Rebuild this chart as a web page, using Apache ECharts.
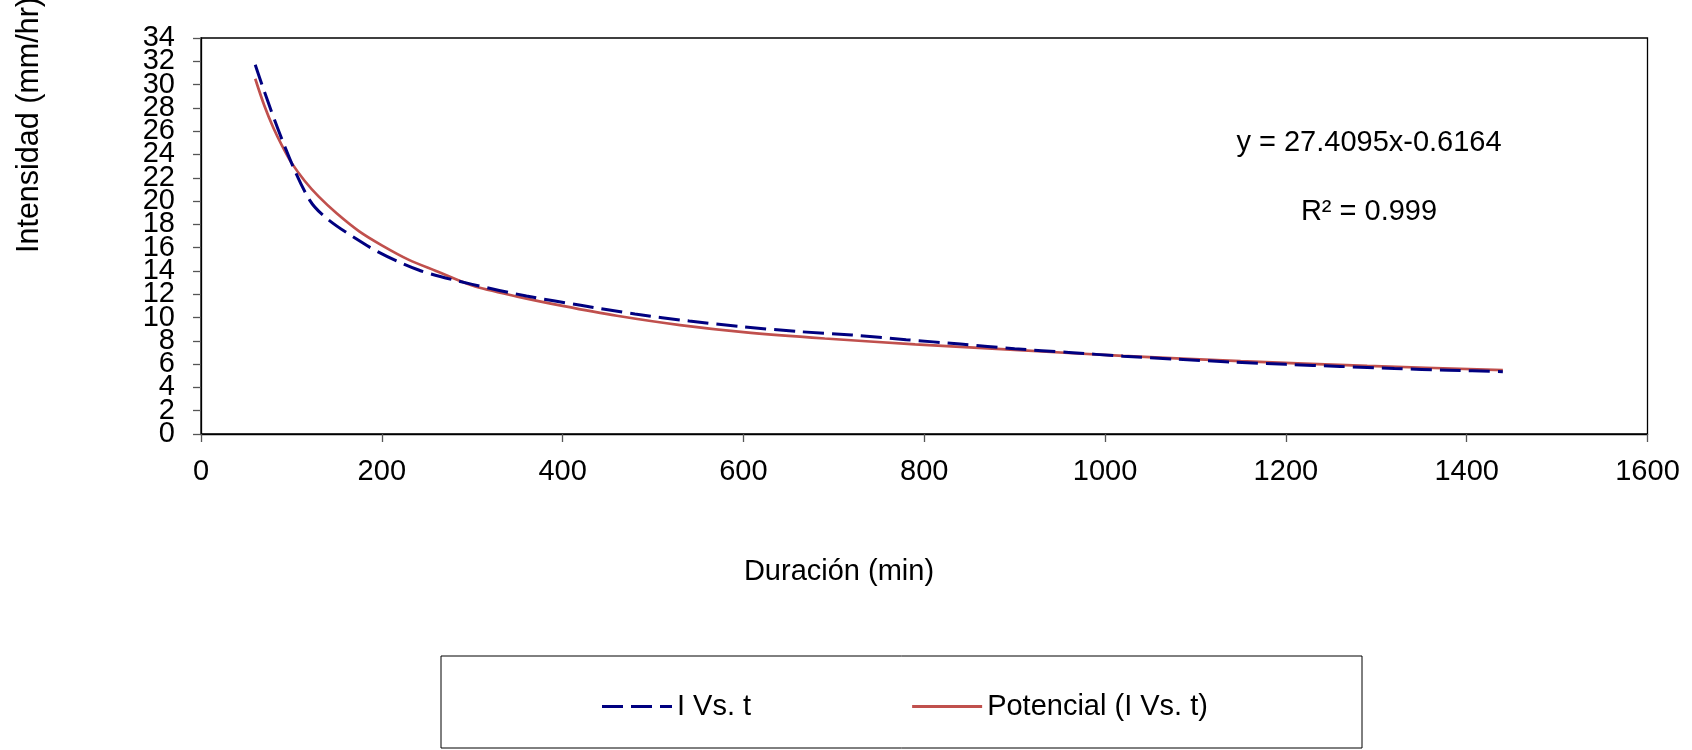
<!DOCTYPE html>
<html><head><meta charset="utf-8">
<script src="https://cdn.jsdelivr.net/npm/echarts@6/dist/echarts.min.js"></script>
<style>html,body{margin:0;padding:0;background:#fff}#c{width:1692px;height:750px}</style>
</head><body><div id="c"></div>
<script>
// Observed data (I Vs. t)
const durations = [60,120,180,240,300,360,420,480,540,600,660,720,780,840,900,960,1020,1080,1140,1200,1260,1320,1380,1440];
const intensities = [31.7,20.1,16.35,14.1,12.85,11.85,11.05,10.3,9.7,9.2,8.8,8.5,8.1,7.72,7.32,7.0,6.68,6.42,6.18,5.98,5.8,5.62,5.48,5.35];
// Power trendline (Potencial)
const trendX = [60,70,80,90,100,115,130,150,175,200,230,260,300,350,400,460,530,600,690,790,900,1020,1150,1290,1440];
const trendY = [30.5,28.2,26.3,24.7,23.3,21.7,20.4,18.95,17.4,16.2,14.95,14.0,12.75,11.8,11.0,10.15,9.35,8.75,8.2,7.7,7.22,6.7,6.25,5.85,5.49];
const seriesNames = ['I Vs. t','Potencial (I Vs. t)'];
const equationText = 'y = 27.4095x-0.6164';
const r2Text = 'R² = 0.999';
const xTitle = 'Duración (min)';
const yTitle = 'Intensidad (mm/hr)';
const yMin = 0, yMax = 34, yStep = 2;
const xMin = 0, xMax = 1600, xStep = 200;

const FONT = '"Liberation Sans", Arial, sans-serif';
const yLabelBase = {fontSize:29, color:'#000', fontFamily:FONT, margin:26, hideOverlap:false};
const chart = echarts.init(document.getElementById('c'));
chart.setOption({
  animation:false,
  backgroundColor:'#fff',
  grid:{left:201, top:38, right:44.5, bottom:316, show:true, borderColor:'#000', borderWidth:1.3, backgroundColor:'transparent'},
  xAxis:{type:'value', min:xMin, max:xMax, interval:xStep,
    axisLine:{show:true, lineStyle:{color:'#000', width:1.3}},
    axisTick:{show:true, inside:false, length:8, lineStyle:{color:'#555', width:1.3}},
    axisLabel:{fontSize:29, color:'#000', fontFamily:FONT, margin:23, showMinLabel:true, showMaxLabel:true, hideOverlap:false,
      formatter:function(v){return String(v);}},
    splitLine:{show:false}},
  yAxis:[
    {type:'value', min:yMin, max:yMax, interval:yStep, position:'left',
     axisLine:{show:true, lineStyle:{color:'#000', width:1.3}},
     axisTick:{show:true, inside:false, length:8, lineStyle:{color:'#555', width:1.3}},
     axisLabel:Object.assign({}, yLabelBase, {showMinLabel:true, showMaxLabel:true,
       formatter:function(v){return (v===yMin||v===yMax)?String(v):'';}}),
     splitLine:{show:false}},
    {type:'value', min:yMin, max:yMax, interval:yStep, position:'left', offset:0,
     axisLine:{show:false}, axisTick:{show:false},
     axisLabel:Object.assign({}, yLabelBase, {showMinLabel:false, showMaxLabel:false,
       formatter:function(v){return String(v);}}),
     splitLine:{show:false}}
  ],
  legend:{show:true, left:602, top:692, padding:0, itemWidth:70, itemHeight:3, itemGap:161,
    textStyle:{fontSize:29, color:'#000', fontFamily:FONT},
    data:[
      {name:seriesNames[0], icon:'path://M0,0h21v3h-21z M29,0h21v3h-21z M58,0h12v3h-12z'},
      {name:seriesNames[1], icon:'path://M0,0h70v3h-70z'}
    ]},
  series:[
    {name:seriesNames[0], type:'line', yAxisIndex:0, data:durations.map((d,i)=>[d,intensities[i]]),
     showSymbol:false, symbol:'none', smooth:0.3,
     lineStyle:{color:'#000080', width:3, type:[21,8]}, itemStyle:{color:'#000080'}, z:3},
    {name:seriesNames[1], type:'line', yAxisIndex:0, data:trendX.map((d,i)=>[d,trendY[i]]),
     showSymbol:false, symbol:'none', smooth:0.3,
     lineStyle:{color:'#C0504D', width:2.7}, itemStyle:{color:'#C0504D'}, z:2}
  ],
  graphic:[
    {type:'rect', shape:{x:441, y:656, width:921, height:92}, style:{fill:'none', stroke:'#000', lineWidth:1}, silent:true},
    {type:'text', x:839, y:572, style:{text:xTitle, fontSize:29, fontFamily:FONT, fill:'#000', textAlign:'center', textVerticalAlign:'middle'}},
    {type:'text', x:30, y:253, rotation:Math.PI/2, style:{text:yTitle, fontSize:30.5, fontFamily:FONT, fill:'#000', textAlign:'left', textVerticalAlign:'middle'}},
    {type:'text', x:1369, y:143, style:{text:equationText, fontSize:29, fontFamily:FONT, fill:'#000', textAlign:'center', textVerticalAlign:'middle'}},
    {type:'text', x:1369, y:212, style:{text:r2Text, fontSize:29, fontFamily:FONT, fill:'#000', textAlign:'center', textVerticalAlign:'middle'}}
  ]
});
</script></body></html>
